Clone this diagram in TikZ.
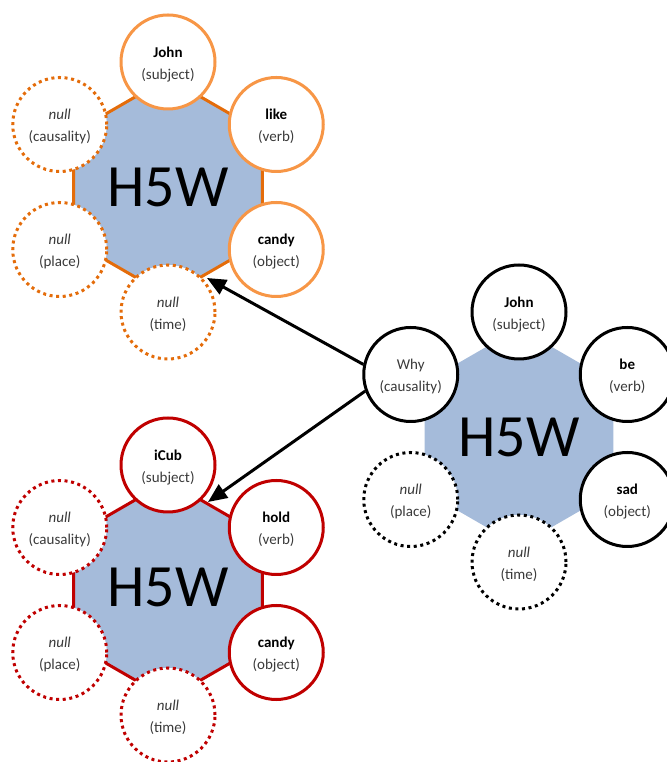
\documentclass[tikz,border=0pt]{standalone}
\usepackage{fontspec}
\setmainfont{Carlito}
\usetikzlibrary{arrows.meta}

\definecolor{hexblue}{HTML}{A5BBDA}
\definecolor{orangeline}{HTML}{F79646}
\definecolor{orangedark}{HTML}{E46C0A}
\definecolor{redline}{HTML}{C00000}
\definecolor{labelgray}{HTML}{3A3A3A}

\tikzset{
  slot/.style={circle, draw, fill=white, line width=3pt, minimum size=94pt,
    inner sep=0pt, align=center, text=labelgray, text height=39pt, text depth=4pt,
    font=\fontsize{15}{22}\selectfont},
  filledslot/.style={slot, solid},
  emptyslot/.style={slot, dash pattern=on 3pt off 3.6pt},
  hexagon/.style={fill=hexblue, line width=3pt, line join=round},
  bigtitle/.style={font=\fontsize{60}{62}\selectfont, text=black, inner sep=0pt},
  link/.style={line width=3pt, -{Triangle[length=19pt,width=16pt]}}
}

% pointy-top hexagon around a centre coordinate
\newcommand{\hexpath}[1]{%
  ([shift={(90:109pt)}]#1) -- ([shift={(30:109pt)}]#1) --
  ([shift={(-30:109pt)}]#1) -- ([shift={(-90:109pt)}]#1) --
  ([shift={(-150:109pt)}]#1) -- ([shift={(150:109pt)}]#1) -- cycle}

\begin{document}
\begin{tikzpicture}[x=1pt, y=1pt]
\useasboundingbox (0,0) rectangle (666,762);

\coordinate (tC) at (168,575);
\coordinate (bC) at (168,172);
\coordinate (rC) at (519,325);

% hexagon cores
\draw[hexagon, draw=orangedark] \hexpath{tC};
\draw[hexagon, draw=redline] \hexpath{bC};
\fill[hexblue] \hexpath{rC};

\node[bigtitle] (tTitle) at (tC) {H5W};
\node[bigtitle] (bTitle) at ([yshift=3pt]bC) {H5W};
\node[bigtitle] (rTitle) at (rC) {H5W};

% upper frame: John like candy
\begin{scope}[every node/.append style={draw=orangeline}]
\node[filledslot] (tSubj) at ([shift={(90:125pt)}]tC)  {\textbf{\color{black}John}\\(subject)};
\node[filledslot] (tVerb) at ([shift={(30:125pt)}]tC)  {\textbf{\color{black}like}\\(verb)};
\node[filledslot] (tObj)  at ([shift={(-30:125pt)}]tC) {\textbf{\color{black}candy}\\(object)};
\node[emptyslot, draw=orangedark] (tTime)  at ([shift={(-90:125pt)}]tC)  {\textit{null}\\(time)};
\node[emptyslot, draw=orangedark] (tPlace) at ([shift={(-150:125pt)}]tC) {\textit{null}\\(place)};
\node[emptyslot, draw=orangedark] (tWhy)   at ([shift={(150:125pt)}]tC)  {\textit{null}\\(causality)};
\end{scope}

% lower frame: iCub hold candy
\begin{scope}[every node/.append style={draw=redline}]
\node[filledslot] (bSubj) at ([shift={(90:125pt)}]bC)  {\textbf{\color{black}iCub}\\(subject)};
\node[filledslot] (bVerb) at ([shift={(30:125pt)}]bC)  {\textbf{\color{black}hold}\\(verb)};
\node[filledslot] (bObj)  at ([shift={(-30:125pt)}]bC) {\textbf{\color{black}candy}\\(object)};
\node[emptyslot] (bTime)  at ([shift={(-90:125pt)}]bC)  {\textit{null}\\(time)};
\node[emptyslot] (bPlace) at ([shift={(-150:125pt)}]bC) {\textit{null}\\(place)};
\node[emptyslot] (bWhy)   at ([shift={(150:125pt)}]bC)  {\textit{null}\\(causality)};
\end{scope}

% right frame: John be sad, asking why
\begin{scope}[every node/.append style={draw=black}]
\node[filledslot] (rSubj) at ([shift={(90:125pt)}]rC)  {\textbf{\color{black}John}\\(subject)};
\node[filledslot] (rVerb) at ([shift={(30:125pt)}]rC)  {\textbf{\color{black}be}\\(verb)};
\node[filledslot] (rObj)  at ([shift={(-30:125pt)}]rC) {\textbf{\color{black}sad}\\(object)};
\node[emptyslot] (rTime)  at ([shift={(-90:125pt)}]rC)  {\textit{null}\\(time)};
\node[emptyslot] (rPlace) at ([shift={(-150:125pt)}]rC) {\textit{null}\\(place)};
\node[filledslot] (rWhy)  at ([shift={(150:125pt)}]rC)  {Why\\(causality)};
\end{scope}

% links from the question slot to both frames
\coordinate (tHit) at (207,484);
\coordinate (bHit) at (208,260);
\draw[link] (rWhy.168) -- (tHit);
\draw[link] (rWhy.200) -- (bHit);

\end{tikzpicture}
\end{document}
